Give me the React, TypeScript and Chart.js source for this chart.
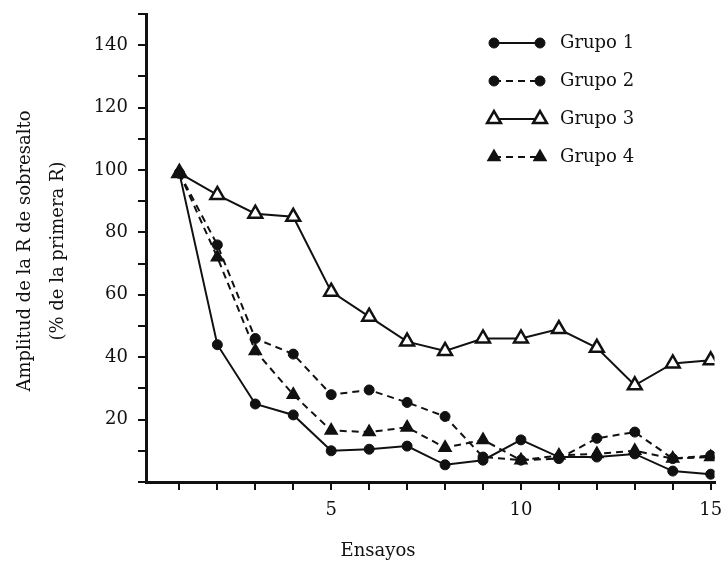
import { useEffect, useRef } from 'react';
import { Chart, registerables } from 'chart.js';

Chart.register(...registerables);

const TRIALS = [1, 2, 3, 4, 5, 6, 7, 8, 9, 10, 11, 12, 13, 14, 15];
const GRUPO_1 = [99, 44, 25, 21.5, 10, 10.5, 11.5, 5.5, 7, 13.5, 8, 8, 9, 3.5, 2.5];
const GRUPO_2 = [99, 76, 46, 41, 28, 29.5, 25.5, 21, 8, 7, 7.5, 14, 16, 7.5, 8.5];
const GRUPO_3 = [99, 92, 86, 85, 61, 53, 45, 42, 46, 46, 49, 43, 31, 38, 39];
const GRUPO_4 = [99, 72, 42, 28, 16.5, 16, 17.5, 11, 13.5, 7, 8.5, 9, 10, 7.5, 8];
const SERIES_NAMES = ['Grupo 1', 'Grupo 2', 'Grupo 3', 'Grupo 4'];
const X_TICKS = [1, 2, 3, 4, 5, 6, 7, 8, 9, 10, 11, 12, 13, 14, 15];
const X_LABELED = [5, 10, 15];
const Y_TICKS = [0, 10, 20, 30, 40, 50, 60, 70, 80, 90, 100, 110, 120, 130, 140, 150];
const Y_LABELED = [20, 40, 60, 80, 100, 120, 140];
const Y_TITLE = ['Amplitud de la R de sobresalto', '(% de la primera R)'];
const X_TITLE = 'Ensayos';

const FONT = '"DejaVu Serif", serif';
const INK = '#111';

function drawMarker(ctx: CanvasRenderingContext2D, style: string, x: number, y: number, r: number, fill: string, stroke: string, lw: number) {
  ctx.save();
  ctx.setLineDash([]);
  ctx.beginPath();
  if (style === 'triangle') {
    let rad = 0;
    const step = (2 * Math.PI) / 3;
    ctx.moveTo(x + Math.sin(rad) * r, y - Math.cos(rad) * r);
    rad += step;
    ctx.lineTo(x + Math.sin(rad) * r, y - Math.cos(rad) * r);
    rad += step;
    ctx.lineTo(x + Math.sin(rad) * r, y - Math.cos(rad) * r);
    ctx.closePath();
  } else {
    ctx.arc(x, y, r, 0, Math.PI * 2);
  }
  ctx.fillStyle = fill;
  ctx.fill();
  ctx.lineWidth = lw;
  ctx.strokeStyle = stroke;
  ctx.stroke();
  ctx.restore();
}

const annotations = {
  id: 'annotations',
  afterDraw(chart: any) {
    const ctx = chart.ctx as CanvasRenderingContext2D;
    ctx.save();
    // legend
    const rows = [43, 81, 119, 157];
    chart.data.datasets.forEach((ds: any, i: number) => {
      const y = rows[i];
      ctx.save();
      ctx.strokeStyle = INK;
      ctx.lineWidth = 2;
      ctx.setLineDash(ds.borderDash || []);
      ctx.beginPath();
      ctx.moveTo(494, y);
      ctx.lineTo(540, y);
      ctx.stroke();
      ctx.restore();
      drawMarker(ctx, ds.pointStyle, 494, y, ds.pointRadius, ds.pointBackgroundColor, INK, ds.pointBorderWidth);
      drawMarker(ctx, ds.pointStyle, 540, y, ds.pointRadius, ds.pointBackgroundColor, INK, ds.pointBorderWidth);
      ctx.fillStyle = INK;
      ctx.font = `18px ${FONT}`;
      ctx.textAlign = 'left';
      ctx.textBaseline = 'middle';
      ctx.fillText(ds.label, 560, y);
    });
    // y title
    ctx.fillStyle = INK;
    ctx.font = `18px ${FONT}`;
    ctx.textAlign = 'center';
    ctx.textBaseline = 'middle';
    ctx.save();
    ctx.translate(25, 251);
    ctx.rotate(-Math.PI / 2);
    ctx.fillText(Y_TITLE[0], 0, 0);
    ctx.restore();
    ctx.save();
    ctx.translate(58, 251);
    ctx.rotate(-Math.PI / 2);
    ctx.fillText(Y_TITLE[1], 0, 0);
    ctx.restore();
    // x title
    ctx.fillText(X_TITLE, 378, 551);
    ctx.restore();
  },
};

export default function App() {
  const ref = useRef<HTMLCanvasElement | null>(null);

  useEffect(() => {
    document.body.style.margin = '0';
    const toPts = (arr: number[]) => TRIALS.map((t, i) => ({ x: t, y: arr[i] }));
    const styles = [
      { dash: [], point: 'circle', r: 5, fill: INK, bw: 1 },
      { dash: [7, 5], point: 'circle', r: 5, fill: INK, bw: 1 },
      { dash: [], point: 'triangle', r: 8, fill: '#fff', bw: 2.5 },
      { dash: [7, 5], point: 'triangle', r: 7, fill: INK, bw: 1.5 },
    ];
    const series = [GRUPO_1, GRUPO_2, GRUPO_3, GRUPO_4];
    const chart = new Chart(ref.current as HTMLCanvasElement, {
      type: 'line',
      data: {
        datasets: series.map((s, i) => ({
          label: SERIES_NAMES[i],
          data: toPts(s),
          borderColor: INK,
          borderWidth: 2,
          borderDash: styles[i].dash,
          pointStyle: styles[i].point,
          pointRadius: styles[i].r,
          pointBackgroundColor: styles[i].fill,
          pointBorderColor: INK,
          pointBorderWidth: styles[i].bw,
          tension: 0,
          fill: false,
        })) as any,
      },
      options: {
        animation: false,
        responsive: false,
        maintainAspectRatio: false,
        layout: { padding: { top: 14, right: 4, left: 0, bottom: 0 } },
        plugins: { legend: { display: false }, tooltip: { enabled: false }, title: { display: false } },
        scales: {
          x: {
            type: 'linear',
            min: 0.12,
            max: 15.1,
            afterBuildTicks: (scale: any) => {
              scale.ticks = X_TICKS.map((v) => ({ value: v }));
            },
            afterFit: (scale: any) => {
              scale.height = 79;
              scale.paddingLeft = 0;
              scale.paddingRight = 0;
            },
            ticks: {
              autoSkip: false,
              maxRotation: 0,
              padding: 10,
              color: INK,
              font: { family: FONT, size: 18 },
              callback: (v: any) => (X_LABELED.includes(Number(v)) ? String(v) : ''),
            },
            grid: { drawOnChartArea: false, drawTicks: true, tickLength: 8, color: INK, lineWidth: 2 },
            border: { color: INK, width: 3 },
          },
          y: {
            type: 'linear',
            min: 0,
            max: 150,
            afterBuildTicks: (scale: any) => {
              scale.ticks = Y_TICKS.map((v) => ({ value: v }));
            },
            afterFit: (scale: any) => {
              scale.width = 146;
              scale.paddingTop = 0;
              scale.paddingBottom = 0;
            },
            ticks: {
              autoSkip: false,
              padding: 10,
              color: INK,
              font: { family: FONT, size: 18 },
              callback: (v: any) => (Y_LABELED.includes(Number(v)) ? String(v) : ''),
            },
            grid: { drawOnChartArea: false, drawTicks: true, tickLength: 8, color: INK, lineWidth: 2 },
            border: { color: INK, width: 3 },
          },
        },
      },
      plugins: [annotations],
    });
    return () => chart.destroy();
  }, []);

  return (
    <div style={{ width: 725, height: 561, background: '#fff' }}>
      <canvas ref={ref} width={725} height={561} style={{ display: 'block' }} />
    </div>
  );
}
